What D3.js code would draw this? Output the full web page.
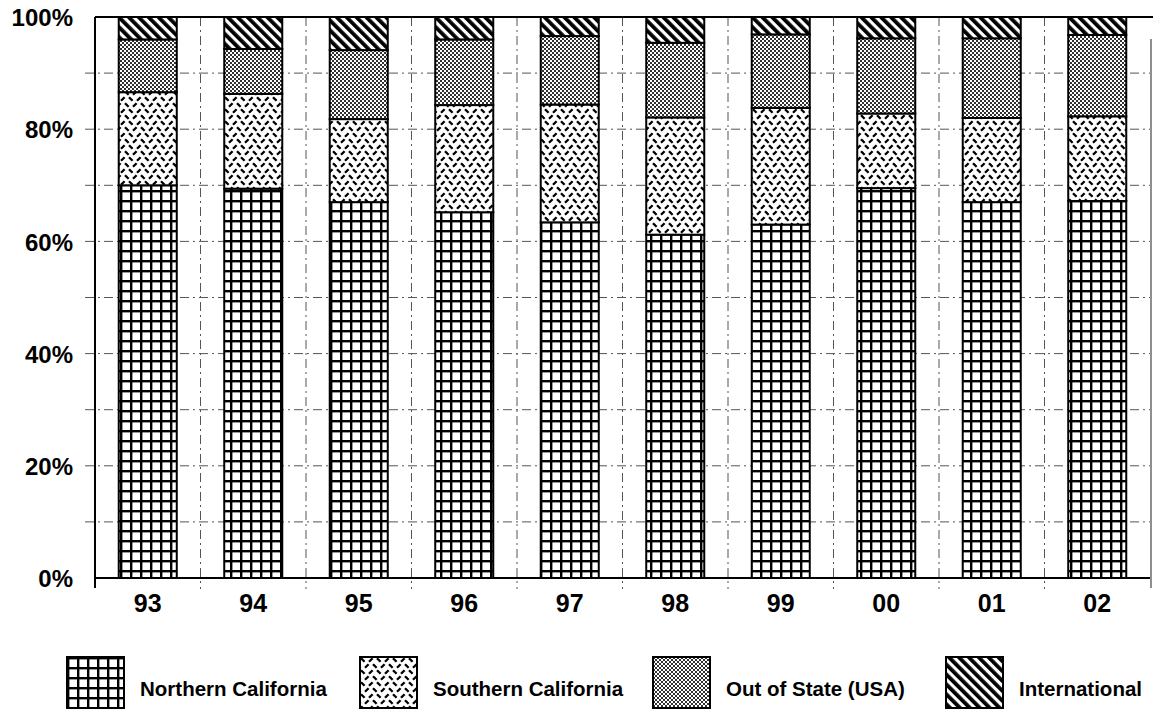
<!DOCTYPE html>
<html>
<head>
<meta charset="utf-8">
<script src="https://cdn.jsdelivr.net/npm/d3@7"></script>
<style>
  html, body { margin: 0; padding: 0; background: #fff; }
  svg { display: block; }
  text { font-family: "Liberation Sans", Arial, Helvetica, sans-serif; font-weight: bold; fill: #000; }
</style>
</head>
<body>
<svg id="chart" width="1153" height="713"></svg>
<script>
// ---- data ----
const categories = ["93", "94", "95", "96", "97", "98", "99", "00", "01", "02"];
const seriesNames = ["Northern California", "Southern California", "Out of State (USA)", "International"];
const northern      = [70.0, 69.4, 67.0, 65.2, 63.4, 61.2, 63.0, 69.5, 67.0, 67.2];
const southern      = [16.6, 16.9, 14.8, 19.1, 21.0, 20.9, 20.8, 13.3, 15.0, 15.1];
const outOfState    = [ 9.4,  8.0, 12.3, 11.7, 12.2, 13.3, 13.1, 13.4, 14.2, 14.5];
const international = [ 4.0,  5.7,  5.9,  4.0,  3.4,  4.6,  3.1,  3.8,  3.8,  3.2];
const yTicks = [0, 20, 40, 60, 80, 100];
const yGrid = [10, 20, 30, 40, 50, 60, 70, 80, 90];

(function () {
const keys = ["n", "s", "o", "i"];
const rows = categories.map((c, i) => ({
  cat: c, n: northern[i], s: southern[i], o: outOfState[i], i: international[i]
}));

// ---- layout ----
const svg = d3.select("#chart");
const pl = 95, pr = 1150, pt = 17, pb = 578;

const x = d3.scaleBand().domain(categories).range([pl, pr])
  .paddingInner(0.45).paddingOuter(0.225);
const y = d3.scaleLinear().domain([0, 100]).range([pb, pt]);

// ---- patterns ----
const defs = svg.append("defs");
const patIds = ["pN", "pS", "pO", "pI"];

const pN = defs.append("pattern").attr("id", "pN").attr("patternUnits", "userSpaceOnUse")
  .attr("width", 10).attr("height", 10).attr("x", 0).attr("y", 0);
pN.append("rect").attr("width", 10).attr("height", 10).attr("fill", "#fff");
pN.append("rect").attr("x", 0).attr("y", 0).attr("width", 2.4).attr("height", 10).attr("fill", "#000");
pN.append("rect").attr("x", 0).attr("y", 0).attr("width", 10).attr("height", 2.4).attr("fill", "#000");

const pS = defs.append("pattern").attr("id", "pS").attr("patternUnits", "userSpaceOnUse")
  .attr("width", 16).attr("height", 12);
pS.append("rect").attr("width", 16).attr("height", 12).attr("fill", "#fff");
[[1, 1.2, 4.6, 4.8], [9, 4.8, 12.6, 1.2], [5, 10.8, 8.6, 7.2], [13, 7.2, 16.6, 10.8], [-3, 7.2, 0.6, 10.8]].forEach(d => {
  pS.append("line").attr("x1", d[0]).attr("y1", d[1]).attr("x2", d[2]).attr("y2", d[3])
    .attr("stroke", "#000").attr("stroke-width", 2.3).attr("stroke-linecap", "butt");
});

const pO = defs.append("pattern").attr("id", "pO").attr("patternUnits", "userSpaceOnUse")
  .attr("width", 4).attr("height", 4);
pO.append("rect").attr("width", 4).attr("height", 4).attr("fill", "#fff");
pO.append("rect").attr("x", 0.1).attr("y", 0.1).attr("width", 1.8).attr("height", 1.8).attr("fill", "#000");
pO.append("rect").attr("x", 2.1).attr("y", 2.1).attr("width", 1.8).attr("height", 1.8).attr("fill", "#000");

const pI = defs.append("pattern").attr("id", "pI").attr("patternUnits", "userSpaceOnUse")
  .attr("width", 7).attr("height", 7).attr("patternTransform", "rotate(-45)");
pI.append("rect").attr("width", 7).attr("height", 7).attr("fill", "#fff");
pI.append("rect").attr("x", 0).attr("y", 0).attr("width", 3.8).attr("height", 7).attr("fill", "#000");

// ---- gridlines ----
const grid = svg.append("g");
grid.selectAll("line.h").data(yGrid).join("line")
  .attr("x1", pl - 10).attr("x2", pr)
  .attr("y1", d => y(d)).attr("y2", d => y(d))
  .attr("stroke", "#555").attr("stroke-width", 1)
  .attr("stroke-dasharray", "9,4,2,4");
const boundaries = categories.slice(1).map(c => x(c) - x.step() * x.paddingInner() / 2);
grid.selectAll("line.v").data(boundaries).join("line")
  .attr("x1", d => d).attr("x2", d => d)
  .attr("y1", pt).attr("y2", pb + 11)
  .attr("stroke", "#555").attr("stroke-width", 1)
  .attr("stroke-dasharray", "9,4,2,4");

// ---- bars ----
const stacked = d3.stack().keys(keys)(rows);
const gBars = svg.append("g");
stacked.forEach((layer, li) => {
  gBars.append("g").selectAll("rect").data(layer).join("rect")
    .attr("x", d => x(d.data.cat))
    .attr("width", x.bandwidth())
    .attr("y", d => y(d[1]))
    .attr("height", d => y(d[0]) - y(d[1]))
    .attr("fill", `url(#${patIds[li]})`)
    .attr("stroke", "#000").attr("stroke-width", 2);
});

// ---- axes / frame ----
const frame = svg.append("g");
frame.append("line").attr("x1", pl).attr("x2", 1153).attr("y1", pt).attr("y2", pt)
  .attr("stroke", "#000").attr("stroke-width", 2);
frame.append("line").attr("x1", pl).attr("x2", pr).attr("y1", pb).attr("y2", pb)
  .attr("stroke", "#000").attr("stroke-width", 2);
frame.append("line").attr("x1", pl).attr("x2", pl).attr("y1", pt).attr("y2", pb + 10)
  .attr("stroke", "#000").attr("stroke-width", 2);
frame.append("line").attr("x1", pr + 1).attr("x2", pr + 1).attr("y1", pt + 22).attr("y2", pb + 10)
  .attr("stroke", "#444").attr("stroke-width", 1.2);

const yAxis = d3.axisLeft(y).tickValues(yTicks).tickFormat(d => d + "%").tickSize(0).tickPadding(22);
const gy = svg.append("g").attr("transform", `translate(${pl},0)`).call(yAxis);
gy.select(".domain").remove();
gy.selectAll("text").style("font-size", "24px").style("font-family", "'Liberation Sans', Arial, sans-serif")
  .style("font-weight", "bold").attr("dy", "0.36em");

const xAxis = d3.axisBottom(x).tickSize(0).tickPadding(29);
const gx = svg.append("g").attr("transform", `translate(0,${pb})`).call(xAxis);
gx.select(".domain").remove();
gx.selectAll("text").style("font-size", "25px").style("font-family", "'Liberation Sans', Arial, sans-serif")
  .style("font-weight", "bold").attr("dy", "0.2em");

// ---- legend ----
const legX = d3.scalePoint().domain(seriesNames).range([67, 946]);
const leg = svg.append("g");
const items = leg.selectAll("g").data(seriesNames).join("g")
  .attr("transform", d => `translate(${legX(d)},657)`);
items.append("rect").attr("width", 57).attr("height", 51)
  .attr("fill", (d, i) => `url(#${patIds[i]})`)
  .attr("stroke", "#000").attr("stroke-width", 2);
items.append("text").attr("x", 73).attr("y", 39)
  .style("font-size", "20.5px")
  .text(d => d);
})();
</script>
</body>
</html>
